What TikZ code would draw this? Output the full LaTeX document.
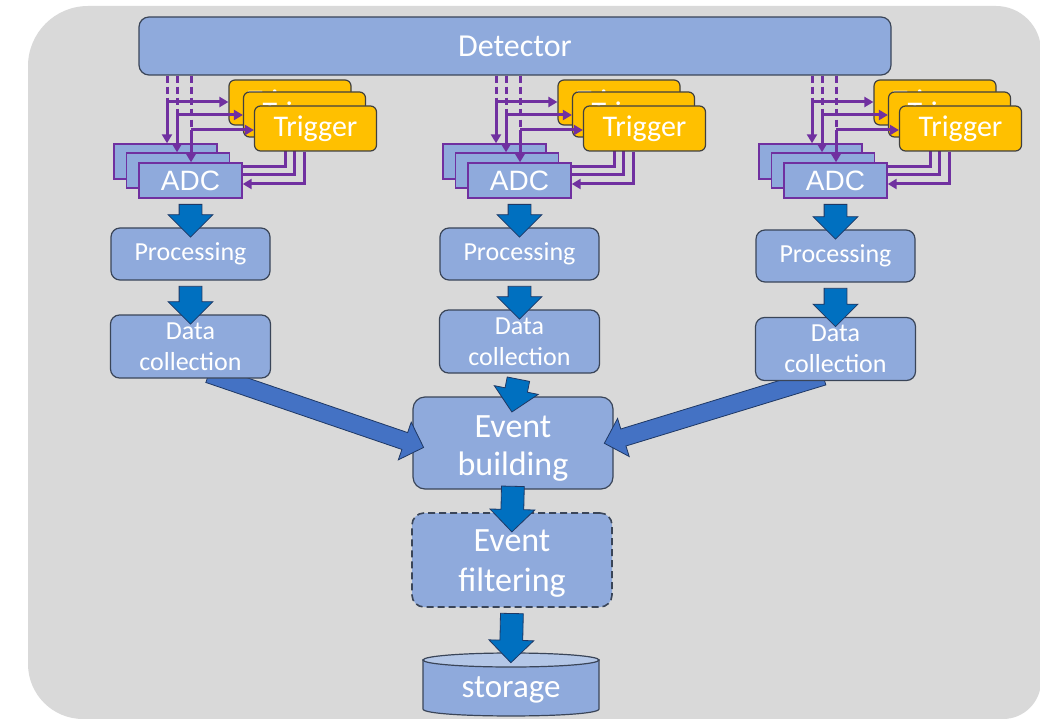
\documentclass[tikz,border=0pt]{standalone}
\usepackage{fontspec}
\setmainfont{Carlito}
\newfontfamily\adcfont{Liberation Sans}
\usetikzlibrary{calc,arrows.meta,shapes.arrows}

\definecolor{bgfill}{HTML}{D9D9D9}
\definecolor{boxfill}{HTML}{8FAADC}
\definecolor{boxline}{HTML}{3A4558}
\definecolor{trigfill}{HTML}{FFC000}
\definecolor{trigline}{HTML}{404040}
\definecolor{sigpurple}{HTML}{7030A0}
\definecolor{arrfill}{HTML}{0070C0}
\definecolor{diagfill}{HTML}{4472C4}
\definecolor{arrline}{HTML}{1F3864}
\definecolor{toplight}{HTML}{B4C7E7}

\pgfdeclarelayer{front}
\pgfsetlayers{main,front}

% thick block arrow between two named points
\newcommand{\fatarrow}[3][fatdown]{%
  \path let \p1=(#2), \p2=(#3),
    \n1={atan2(\y2-\y1,\x2-\x1)}, \n2={veclen(\x2-\x1,\y2-\y1)} in
    node[#1, rotate=\n1, minimum height=\n2] at ($(#2)!0.5!(#3)$) {};}
% two centred lines, lowered a little inside their box
\newcommand{\twolines}[3]{\raisebox{#3}[\height][\depth]{\begin{tabular}{@{}c@{}}#1\\#2\end{tabular}}}

\begin{document}
\begin{tikzpicture}[x=1pt,y=-1pt,
  blk/.style={draw=boxline, fill=boxfill, line width=1.2pt, text=white,
    align=center, inner sep=0pt, rounded corners=9pt},
  trig/.style={draw=trigline, fill=trigfill, line width=1.2pt, rounded corners=6pt,
    minimum width=122pt, minimum height=45pt, text=white, inner sep=0pt,
    font=\fontsize{30}{36}\selectfont},
  adc/.style={draw=sigpurple, fill=boxfill, line width=1.4pt, minimum width=103pt,
    minimum height=35pt, text=white, inner sep=0pt,
    font=\adcfont\fontsize{28}{30}\selectfont},
  sig/.style={draw=sigpurple, line width=3pt, -{Triangle[length=9pt,width=10pt]}},
  sigdash/.style={draw=sigpurple, line width=3pt, dash pattern=on 7pt off 4pt},
  fatdown/.style={single arrow, draw=arrline, fill=arrfill, line width=0.8pt,
    inner xsep=0pt, inner ysep=11pt, single arrow head extend=11pt,
    single arrow head indent=0pt, single arrow tip angle=90, anchor=center},
  fatdiag/.style={fatdown, fill=diagfill, inner ysep=8.5pt, single arrow head extend=11pt},
  proc/.style={blk, minimum width=159pt, minimum height=52pt, font=\fontsize{26}{31}\selectfont},
  dcoll/.style={blk, minimum width=160pt, minimum height=63pt, font=\fontsize{26}{31}\selectfont},
  bigbox/.style={blk, rounded corners=12pt, minimum width=200pt}
]
\useasboundingbox (0,0) rectangle (1040,719);

% grey backdrop with unequal corner radii
\fill[bgfill] (28,66) .. controls (28,32.9) and (54.9,6) .. (88,6)
  -- (996,6) .. controls (1020.8,6) and (1041,26.2) .. (1041,51)
  -- (1041,681) .. controls (1041,702) and (1024,719) .. (1003,719)
  -- (83,719) .. controls (52.6,719) and (28,694.4) .. (28,664) -- cycle;

\node[blk, rounded corners=10pt, minimum width=752pt, minimum height=58pt,
  font=\fontsize{32}{38}\selectfont] (det) at (515,46) {Detector};

% three readout chains: ADC and trigger stacks with their signal lines
\foreach \c/\dx in {1/0, 2/329, 3/645}{
  % back layer
  \node[adc] (adcA-\c) at (165.5+\dx,161.5) {};
  \node[trig] (trigA-\c) at (290+\dx,102.5) {Trigger};
  \coordinate (k1-\c) at (167+\dx,102);
  \draw[sigdash] (k1-\c |- det.south) -- (k1-\c);
  \draw[sig] (k1-\c) -- (k1-\c -| trigA-\c.west);
  \draw[sig] (k1-\c) -- (k1-\c |- adcA-\c.north);
  \draw[sig] ($(trigA-\c.south)+(-5,0)$) |- ($(adcA-\c.east)+(0,5.5)$);
  % middle layer
  \node[adc] (adcB-\c) at (178+\dx,170.5) {};
  \node[trig] (trigB-\c) at (304.5+\dx,114.5) {Trigger};
  \coordinate (k2-\c) at (177+\dx,115);
  \draw[sigdash] (k2-\c |- det.south) -- (k2-\c);
  \draw[sig] (k2-\c) -- (k2-\c -| trigB-\c.west);
  \draw[sig] (k2-\c) -- (k2-\c |- adcB-\c.north);
  \draw[sig] ($(trigB-\c.south)+(-10.5,0)$) |- ($(adcB-\c.east)+(0,4.5)$);
  % front layer
  \node[adc] (adcC-\c) at (190.5+\dx,180.5) {ADC};
  \node[trig] (trigC-\c) at (315.5+\dx,128.5) {Trigger};
  \coordinate (k3-\c) at (191+\dx,130);
  \draw[sigdash] (k3-\c |- det.south) -- (k3-\c);
  \draw[sig] (k3-\c) -- (k3-\c -| trigC-\c.west);
  \draw[sig] (k3-\c) -- (k3-\c |- adcC-\c.north);
  \draw[sig] ($(trigC-\c.south)+(-11.5,0)$) |- ($(adcC-\c.east)+(0,3.5)$);
}

% processing and data collection boxes sit above the merging arrows
\begin{pgfonlayer}{front}
\foreach \c/\dx/\py/\dy in {1/0/254/346.5, 2/329/254/341.5, 3/645/256/349}{
  \node[proc] (proc-\c) at (190.5+\dx,\py) {Processing};
  \node[dcoll] (dc-\c) at (190.5+\dx,\dy) {Data\\collection};
}
\end{pgfonlayer}

\node[bigbox, minimum height=92pt, font=\fontsize{34}{38}\selectfont] (evb) at (513,443)
  {\twolines{Event}{building}{-6pt}};
\node[bigbox, dash pattern=on 7pt off 4pt, line width=1.6pt, minimum height=94pt,
  font=\fontsize{34}{39.5}\selectfont]
  (evf) at (512,560) {\twolines{Event}{filtering}{-3.5pt}};

% storage drum
\coordinate (stoc) at (511,690);
\path[fill=boxfill, draw=boxline, line width=1.2pt]
  (423,660) -- (423,709) .. controls (423,718.3) and (599,718.3) .. (599,709)
  -- (599,660) -- cycle;
\path[fill=toplight, draw=boxline, line width=1.2pt]
  (511,660) ellipse [x radius=88pt, y radius=7pt];
\node[inner sep=0pt, text=white, font=\fontsize{33}{38}\selectfont] (sto) at (stoc) {storage};
\coordinate (stotop) at (511,657);

% side chains merge into event building
\coordinate (tl) at ($(dc-1.south)+(14,-6)$);
\coordinate (hl) at ($(evb.west)+(7,3)$);
\coordinate (tr) at ($(dc-3.south)+(-8,-6)$);
\coordinate (hr) at ($(evb.east)+(-5,-1)$);
\fatarrow[fatdiag]{tl}{hl}
\fatarrow[fatdiag]{tr}{hr}

% vertical data flow
\begin{pgfonlayer}{front}
\foreach \c in {1,2,3}{
  \coordinate (pa-\c) at ($(proc-\c.north)+(0,4)$);
  \coordinate (da-\c) at ($(dc-\c.north)+(0,4)$);
  \fatarrow{adcC-\c.south}{pa-\c}
  \fatarrow{proc-\c.south}{da-\c}
}
\coordinate (eba) at ($(evb.north)+(0,10)$);
\fatarrow{dc-2.south}{eba}
\coordinate (ebs) at ($(evb.south)+(0,-9)$);
\coordinate (efa) at ($(evf.north)+(0,14)$);
\fatarrow{ebs}{efa}
\fatarrow{evf.south}{stotop}
\end{pgfonlayer}
\end{tikzpicture}
\end{document}
